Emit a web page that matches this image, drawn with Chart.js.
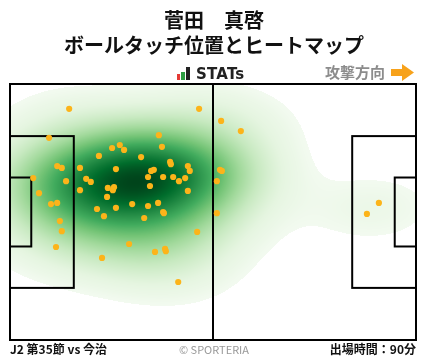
<!DOCTYPE html>
<html><head><meta charset="utf-8">
<script src="https://cdn.jsdelivr.net/npm/chart.js@4/dist/chart.umd.min.js"></script>
<style>
html,body{margin:0;padding:0;background:#fff;}
#wrap{position:relative;width:428px;height:359px;overflow:hidden;font-family:"Noto Sans CJK JP","Noto Sans",sans-serif;}
#c{position:absolute;left:0;top:0;width:428px;height:359px;}
.t{position:absolute;white-space:nowrap;}
</style></head><body>
<div id="wrap">
<canvas id="c" width="428" height="359"></canvas>
<div class="t" style="left:0;width:428px;text-align:center;top:7px;font-size:20px;font-weight:bold;line-height:26px;color:#111">菅田　真啓</div>
<div class="t" style="left:0;width:428px;text-align:center;top:32px;font-size:20px;font-weight:bold;line-height:26px;color:#111">ボールタッチ位置とヒートマップ</div>
<div class="t" style="left:177px;top:74px;width:3px;height:6px;background:#e53935"></div>
<div class="t" style="left:181px;top:72px;width:4px;height:8px;background:#2e9e44"></div>
<div class="t" style="left:186px;top:67px;width:4px;height:13px;background:#222"></div>
<div class="t" style="left:196px;top:64px;font-family:'DejaVu Sans',sans-serif;font-size:15px;font-weight:bold;line-height:20px;color:#222;letter-spacing:0.2px">STATs</div>
<div class="t" style="left:325px;top:61px;font-size:15px;font-weight:bold;line-height:22px;color:#8c8c8c">攻撃方向</div>
<svg class="t" style="left:390px;top:63px" width="26" height="19"><polygon points="1,6 12,6 12,1 24,9.5 12,18 12,13 1,13" fill="#f7a21b"/></svg>
<div class="t" style="left:10px;top:340px;font-size:12px;font-weight:bold;line-height:18px;color:#111">J2 第35節 vs 今治</div>
<div class="t" style="left:0;width:428px;text-align:center;top:340px;font-size:11px;line-height:18px;color:#999">© SPORTERIA</div>
<div class="t" style="right:12px;top:340px;font-size:12px;font-weight:bold;line-height:18px;color:#111">出場時間：90分</div>
</div>
<script>
// Pitch dimensions (metres)
const pitchLength = 105;
const pitchWidth = 68;
const penaltyDepth = 16.5;
const penaltyHalfWidth = 20.16;
const goalAreaDepth = 5.5;
const goalAreaHalfWidth = 9.16;

// Ball touch positions (x: metres from own goal line, y: metres from top touchline)
const touchX = [15.3,48.9,10.1,38.5,39.3,28.4,26.4,29.5,23.0,33.9,41.4,41.6,12.2,13.4,18.1,27.4,46.0,46.5,36.5,37.2,
  6.0,35.7,39.6,42.2,43.7,45.3,19.7,20.9,14.5,7.5,18.1,25.3,26.9,26.6,36.2,46.0,25.1,10.6,12.2,22.5,
  27.4,31.6,35.7,38.3,39.6,39.8,24.3,34.7,12.9,13.4,11.9,30.8,23.8,37.5,40.1,40.3,43.5,48.4,53.5,54.6,
  59.7,54.3,54.8,53.5,95.4,92.3];
const touchY = [6.6,6.6,14.3,13.6,16.7,16.2,17.0,17.5,19.1,19.4,20.7,21.3,21.8,22.3,22.3,22.6,21.8,23.1,23.1,22.8,
  25.0,24.7,24.7,24.7,25.8,25.0,25.2,26.0,25.8,29.0,28.2,27.6,27.4,28.2,27.1,28.4,30.0,31.9,31.6,33.2,
  32.9,31.9,32.4,31.6,34.0,34.3,35.1,35.6,36.4,39.1,43.3,42.5,46.2,44.6,43.8,44.4,52.6,39.3,34.3,9.8,
  12.5,22.8,23.1,25.8,31.6,34.5];

const bwAdjust = 1.5;
const massThreshold = 0.05;

const GREENS = [[247,252,245],[229,245,224],[199,233,192],[161,217,155],[116,196,118],[65,171,93],[35,139,69],[0,109,44],[0,68,27]];
function greens(t){
  t = Math.max(0, Math.min(1, t));
  const p = t*(GREENS.length-1), i = Math.min(Math.floor(p), GREENS.length-2), f = p-i;
  const a = GREENS[i], b = GREENS[i+1];
  return [a[0]+(b[0]-a[0])*f, a[1]+(b[1]-a[1])*f, a[2]+(b[2]-a[2])*f];
}

const pitchPlugin = {
  id:'pitch',
  beforeDatasetsDraw(chart){
    const {ctx, chartArea:a, scales:{x:sx, y:sy}} = chart;
    const n = touchX.length;
    let mx=0,my=0; for(let i=0;i<n;i++){mx+=touchX[i];my+=touchY[i];} mx/=n; my/=n;
    let vxx=0,vyy=0,vxy=0;
    for(let i=0;i<n;i++){const dx=touchX[i]-mx, dy=touchY[i]-my; vxx+=dx*dx; vyy+=dy*dy; vxy+=dx*dy;}
    vxx/=(n-1); vyy/=(n-1); vxy/=(n-1);
    const f2 = Math.pow(n, -2/6)*bwAdjust*bwAdjust;
    const cxx=vxx*f2, cyy=vyy*f2, cxy=vxy*f2;
    const det=cxx*cyy-cxy*cxy, ia=cyy/det, ib=-cxy/det, ic=cxx/det;
    const dens=(px,py)=>{let s=0; for(let i=0;i<n;i++){const dx=px-touchX[i], dy=py-touchY[i]; s+=Math.exp(-0.5*(ia*dx*dx+2*ib*dx*dy+ic*dy*dy));} return s;};
    const bwx=Math.sqrt(cxx), bwy=Math.sqrt(cyy);
    const x0=Math.min(...touchX)-3*bwx, x1=Math.max(...touchX)+3*bwx;
    const y0=Math.min(...touchY)-3*bwy, y1=Math.max(...touchY)+3*bwy;
    const G=200, vals=[];
    for(let j=0;j<G;j++){const yy=y0+(y1-y0)*j/(G-1); for(let i=0;i<G;i++){vals.push(dens(x0+(x1-x0)*i/(G-1), yy));}}
    vals.sort((p,q)=>p-q); // ascending
    const N=vals.length, cumAsc=new Float64Array(N);
    let s=0; for(let k=0;k<N;k++){s+=vals[k]; cumAsc[k]=s;}
    const tot=s;
    const massAbove=d=>{let lo=0,hi=N; while(lo<hi){const m=(lo+hi)>>1; if(vals[m]<d) lo=m+1; else hi=m;} const below=lo>0?cumAsc[lo-1]:0; return (tot-below)/tot;};
    const w=Math.round(a.right-a.left), h=Math.round(a.bottom-a.top);
    const off=document.createElement('canvas'); off.width=w; off.height=h;
    const octx=off.getContext('2d'); const img=octx.createImageData(w,h);
    const keep=1-massThreshold;
    for(let py=0;py<h;py++){
      const vy=sy.getValueForPixel(a.top+py+0.5);
      for(let px=0;px<w;px++){
        const vx=sx.getValueForPixel(a.left+px+0.5);
        const d=dens(vx,vy); const k=(py*w+px)*4;
        const m=massAbove(d);
        if(m>keep){img.data[k+3]=0; continue;}
        const c=greens((1-m/keep)*0.97+0.03);
        img.data[k]=c[0]; img.data[k+1]=c[1]; img.data[k+2]=c[2]; img.data[k+3]=255;
      }
    }
    octx.putImageData(img,0,0);
    ctx.save();
    ctx.drawImage(off, a.left, a.top);
    const X=v=>sx.getPixelForValue(v), Y=v=>sy.getPixelForValue(v);
    ctx.strokeStyle='#000'; ctx.lineWidth=2;
    const rect=(xa,ya,xb,yb)=>{ctx.strokeRect(X(xa),Y(ya),X(xb)-X(xa),Y(yb)-Y(ya));};
    rect(0,0,pitchLength,pitchWidth);
    const cy=pitchWidth/2;
    rect(0,cy-penaltyHalfWidth,penaltyDepth,cy+penaltyHalfWidth);
    rect(0,cy-goalAreaHalfWidth,goalAreaDepth,cy+goalAreaHalfWidth);
    rect(pitchLength-penaltyDepth,cy-penaltyHalfWidth,pitchLength,cy+penaltyHalfWidth);
    rect(pitchLength-goalAreaDepth,cy-goalAreaHalfWidth,pitchLength,cy+goalAreaHalfWidth);
    ctx.beginPath(); ctx.moveTo(X(pitchLength/2),Y(0)); ctx.lineTo(X(pitchLength/2),Y(pitchWidth)); ctx.stroke();
    ctx.restore();
  }
};

new Chart(document.getElementById('c'), {
  type:'scatter',
  data:{datasets:[{data:touchX.map((x,i)=>({x, y:touchY[i]})), backgroundColor:'#fcb41a', borderWidth:0, pointRadius:3.1, pointHoverRadius:3.1}]},
  options:{
    responsive:false, animation:false, events:[],
    layout:{padding:{left:10,top:84,right:12,bottom:19}},
    scales:{x:{type:'linear',min:0,max:pitchLength,display:false}, y:{type:'linear',min:0,max:pitchWidth,reverse:true,display:false}},
    plugins:{legend:{display:false}, tooltip:{enabled:false}}
  },
  plugins:[pitchPlugin]
});
</script>
</body></html>
